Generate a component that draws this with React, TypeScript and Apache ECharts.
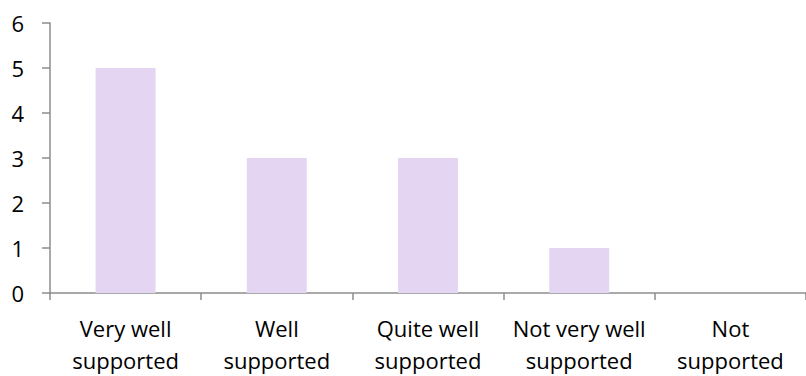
import React, { useEffect, useRef } from "react";
import * as echarts from "echarts";

const categories = [
  "Very well\nsupported",
  "Well\nsupported",
  "Quite well\nsupported",
  "Not very well\nsupported",
  "Not\nsupported",
];
const values = [5, 3, 3, 1, 0];
const yTicks = { min: 0, max: 6, interval: 1 };

export default function App() {
  const ref = useRef<HTMLDivElement>(null);
  useEffect(() => {
    if (!ref.current) return;
    const chart = echarts.init(ref.current, null, { renderer: "svg" });
    const axisColor = "#8c8c8c";
    const font = "'Open Sans', sans-serif";
    chart.setOption({
      animation: false,
      backgroundColor: "#ffffff",
      grid: { left: 50, right: -4, top: 23, bottom: 78, containLabel: false },
      xAxis: {
        type: "category",
        data: categories,
        axisLine: { show: true, lineStyle: { color: axisColor, width: 1.5 } },
        axisTick: {
          show: true,
          alignWithLabel: false,
          length: 7,
          lineStyle: { color: axisColor, width: 1.5 },
        },
        axisLabel: {
          color: "#000",
          fontFamily: font,
          fontSize: 22,
          lineHeight: 32,
          margin: 19,
          interval: 0,
        },
      },
      yAxis: {
        type: "value",
        min: yTicks.min,
        max: yTicks.max,
        interval: yTicks.interval,
        splitLine: { show: false },
        axisLine: { show: true, lineStyle: { color: axisColor, width: 1.5 } },
        axisTick: {
          show: true,
          length: 8,
          lineStyle: { color: axisColor, width: 1.5 },
        },
        axisLabel: {
          color: "#000",
          fontFamily: font,
          fontSize: 22,
          margin: 26,
        },
      },
      series: [
        {
          type: "bar",
          data: values,
          barWidth: 60,
          itemStyle: { color: "#e4d6f2" },
        },
      ],
    });
    return () => chart.dispose();
  }, []);
  return (
    <div
      ref={ref}
      style={{ position: "absolute", left: 0, top: 0, width: 806, height: 376 }}
    />
  );
}
